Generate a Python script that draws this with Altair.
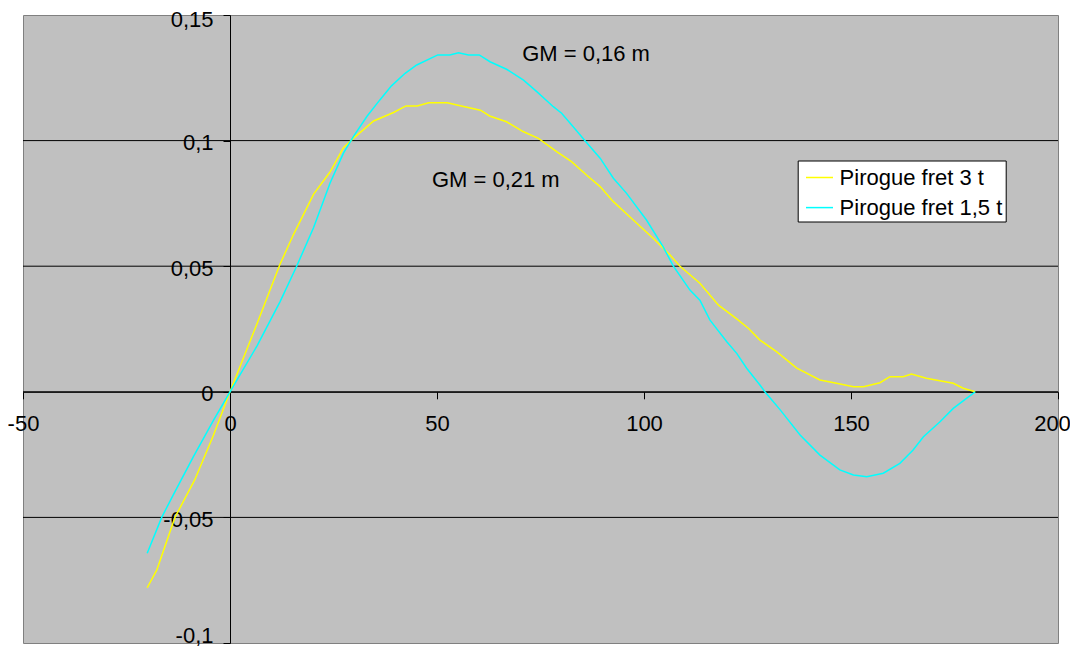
import altair as alt
import pandas as pd

# ---- data ----
series_names = ["Pirogue fret 3 t", "Pirogue fret 1,5 t"]
series_colors = ["#FFFF00", "#00FFFF"]

x_3t = [-20, -17.7, -13.3, -8.5, -4, 0, 6.5, 12, 15.3, 20.2, 24.2, 27.4, 29.8, 34.7, 39.5,
        42.5, 45.2, 48, 52.5, 55.6, 60.5, 62.7, 66.8, 70.9, 74.5, 78.9, 82.5, 86.1, 89.4,
        92.6, 97.4, 102.2, 106.3, 108.7, 113.5, 118, 122.4, 125.2, 128, 132, 136.9, 142.5,
        146.5, 150.6, 153, 157, 159.4, 162.6, 164.6, 168.2, 174.7, 177.1, 180]
y_3t = [-0.078, -0.071, -0.05, -0.035, -0.0173, 0, 0.027, 0.0505, 0.0625, 0.0787, 0.0876,
        0.0972, 0.1009, 0.1078, 0.1112, 0.1138, 0.1138, 0.1151, 0.1151, 0.1139, 0.1121,
        0.1098, 0.1075, 0.1035, 0.1009, 0.0956, 0.0916, 0.0863, 0.0817, 0.0757, 0.0684,
        0.0611, 0.0545, 0.05, 0.0432, 0.0345, 0.029, 0.0253, 0.0206, 0.016, 0.0094, 0.0047,
        0.0034, 0.002, 0.002, 0.0036, 0.006, 0.006, 0.0071, 0.0054, 0.0034, 0.0014, 0]

x_15t = [-20, -16.5, -13.7, -8.9, -4, 0, 6.5, 12.1, 16.1, 20.2, 24.2, 27.4, 29.8, 33.1, 36.2,
         39, 42.3, 45.1, 50.2, 53.1, 55.2, 57.6, 60.2, 62.8, 66.8, 70.9, 74.1, 78.1, 80.1,
         82.9, 85.7, 89.4, 92.6, 95.8, 100.6, 104.6, 107.1, 111.1, 113.5, 115.9, 120, 122.4,
         124.8, 128, 129.2, 132.9, 137.7, 142.5, 147.3, 150.6, 153.8, 157.8, 161.8, 165,
         167.5, 171.5, 174.7, 177.9, 180]
y_15t = [-0.0643, -0.05, -0.041, -0.026, -0.0114, 0, 0.0182, 0.0359, 0.05, 0.0654, 0.0832,
         0.095, 0.1016, 0.1097, 0.1162, 0.1218, 0.1268, 0.1301, 0.1341, 0.1341, 0.135,
         0.1341, 0.1341, 0.1314, 0.1284, 0.1241, 0.1195, 0.1135, 0.1109, 0.1055, 0.1, 0.093,
         0.085, 0.079, 0.0684, 0.0578, 0.05, 0.0405, 0.0365, 0.0286, 0.0199, 0.0153, 0.0094,
         0.0027, 0, -0.0072, -0.0172, -0.0252, -0.0311, -0.0331, -0.0338, -0.0324, -0.0285,
         -0.0232, -0.0179, -0.0119, -0.0066, -0.0026, 0]

x_ticks = [-50, 0, 50, 100, 150, 200]
y_ticks = [-0.1, -0.05, 0, 0.05, 0.1, 0.15]
grid_values = [-0.05, 0, 0.05, 0.1]

note_texts = ["GM = 0,16 m", "GM = 0,21 m"]
note_x = [86, 64.2]
note_y = [0.1345, 0.0843]

X_DOMAIN = [-50, 200]
Y_DOMAIN = [-0.1, 0.15]
W, H = 1035, 628
FONT = "Liberation Sans"
FS = 22

rows = []
for name, xs, ys in [(series_names[0], x_3t, y_3t), (series_names[1], x_15t, y_15t)]:
    for i, (a, v) in enumerate(zip(xs, ys)):
        rows.append({"series": name, "angle": a, "gz": v, "order": i})
df = pd.DataFrame(rows)

xscale = alt.Scale(domain=X_DOMAIN, nice=False, zero=False)
yscale = alt.Scale(domain=Y_DOMAIN, nice=False, zero=False)

x_offset = -H * (0 - Y_DOMAIN[0]) / (Y_DOMAIN[1] - Y_DOMAIN[0])
y_offset = -W * (0 - X_DOMAIN[0]) / (X_DOMAIN[1] - X_DOMAIN[0])

# keep the edge labels inside the page (the page cannot grow past the window)
x_label_shift = {"condition": {"test": f"datum.value == {X_DOMAIN[1]}", "value": -6}, "value": 0}
y_label_shift = {"condition": [{"test": f"datum.value == {Y_DOMAIN[0]}", "value": -8},
                               {"test": f"datum.value == {Y_DOMAIN[1]}", "value": 4}],
                 "value": 2}

x_axis = alt.Axis(values=x_ticks, grid=False, orient="bottom", offset=x_offset, tickSize=7,
                  labelPadding=15, labelExpr="toString(datum.value)", title=None,
                  labelOffset=x_label_shift,
                  domainColor="black", tickColor="black", labelColor="black",
                  labelFont=FONT, labelFontSize=FS, labelFlush=False, labelOverlap=False)
y_axis = alt.Axis(values=y_ticks, grid=False, orient="left", offset=y_offset, tickSize=7,
                  labelPadding=10, labelExpr="replace(toString(datum.value), '.', ',')",
                  labelOffset=y_label_shift,
                  title=None, domainColor="black", tickColor="black", labelColor="black",
                  labelFont=FONT, labelFontSize=FS, labelOverlap=False)

grid = alt.Chart(pd.DataFrame({"g": grid_values})).mark_rule(color="black", strokeWidth=1).encode(
    y=alt.Y("g:Q", scale=yscale, axis=y_axis)
)

lines = alt.Chart(df).mark_line(strokeWidth=1.5).encode(
    x=alt.X("angle:Q", scale=xscale, axis=x_axis),
    y=alt.Y("gz:Q", scale=yscale, axis=y_axis),
    color=alt.Color("series:N", title=None,
                    scale=alt.Scale(domain=series_names, range=series_colors),
                    legend=alt.Legend(orient="none", legendX=774.7, legendY=145.5,
                                      symbolType="stroke", symbolSize=729,
                                      symbolStrokeWidth=1.5, symbolOffset=4.8,
                                      labelFont=FONT, labelFontSize=FS, labelLimit=400,
                                      padding=2.5, rowPadding=4.1, labelOffset=5.6,
                                      strokeColor="black", fillColor="white",
                                      labelColor="black")),
    order="order:Q",
)

notes = alt.Chart(pd.DataFrame({"t": note_texts, "x": note_x, "y": note_y})).mark_text(
    font=FONT, fontSize=FS, color="black", align="center", baseline="middle"
).encode(
    x=alt.X("x:Q", scale=xscale, axis=x_axis),
    y=alt.Y("y:Q", scale=yscale, axis=y_axis),
    text="t:N",
)

chart = alt.layer(grid, lines, notes).properties(
    width=W, height=H,
    autosize=alt.AutoSizeParams(type="none"),
    padding={"left": 15, "top": 7, "right": 12, "bottom": 3},
).configure(background="white").configure_view(fill="#C0C0C0", stroke="#808080", strokeWidth=1)

chart.save("out.html", embed_options={"renderer": "svg", "actions": False})
